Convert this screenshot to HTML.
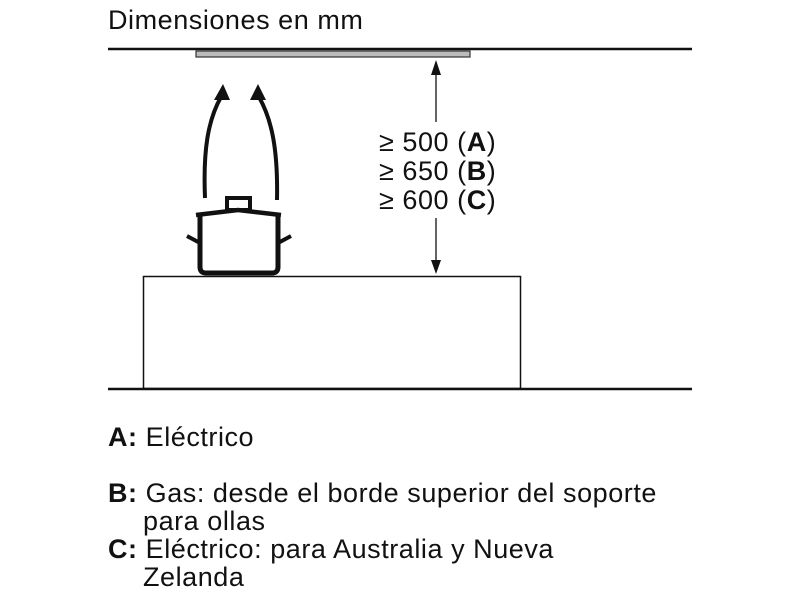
<!DOCTYPE html>
<html><head><style>
body{margin:0;background:#fff;width:800px;height:600px;overflow:hidden;position:relative;font-family:"Liberation Sans",sans-serif;color:#111}
.t{position:absolute;font-size:27px;white-space:nowrap;line-height:28px;letter-spacing:0.55px}
</style></head><body>
<svg width="800" height="600" style="position:absolute;left:0;top:0">
<line x1="108" y1="49" x2="692" y2="49" stroke="#111" stroke-width="2.5"/>
<rect x="196" y="51" width="274" height="6" fill="#bbb" stroke="#333" stroke-width="1.2"/>
<line x1="108" y1="389" x2="692" y2="389" stroke="#111" stroke-width="2.5"/>
<rect x="143.5" y="276.5" width="377" height="112" fill="none" stroke="#111" stroke-width="1.5"/>
<line x1="436" y1="70" x2="436" y2="122" stroke="#111" stroke-width="1.3"/>
<line x1="436" y1="218" x2="436" y2="266" stroke="#111" stroke-width="1.3"/>
<polygon points="436,60 431,75 441,75" fill="#111"/>
<polygon points="436,274 431,260 441,260" fill="#111"/>
<path d="M205,198 C203,150 208,120 221,97" fill="none" stroke="#111" stroke-width="4"/>
<polygon points="223,84 214,100 230,100" fill="#111"/>
<path d="M277,200 C278,150 272,120 259,97" fill="none" stroke="#111" stroke-width="4"/>
<polygon points="258,84 250,100 266,100" fill="#111"/>
<rect x="227" y="198" width="23" height="12" fill="none" stroke="#111" stroke-width="4"/>
<path d="M196,215 L238,210 L281,215" fill="none" stroke="#111" stroke-width="4.5"/>
<path d="M200,215 L200,267 Q200,273 206,273 L272,273 Q278,273 278,267 L278,215" fill="none" stroke="#111" stroke-width="5"/>
<path d="M187,236 L200,243 M291,236 L278,243" stroke="#111" stroke-width="4"/>
</svg>
<div class="t" style="left:108px;top:6px">Dimensiones en mm</div>
<div class="t" style="left:379px;top:128px;line-height:29px">≥ 500 (<b>A</b>)<br>≥ 650 (<b>B</b>)<br>≥ 600 (<b>C</b>)</div>
<div class="t" style="left:108px;top:423px"><b>A:</b> Eléctrico</div>
<div class="t" style="left:108px;top:479px"><b>B:</b> Gas: desde el borde superior del soporte<br><span style="padding-left:35px">para ollas</span></div>
<div class="t" style="left:108px;top:535px"><b>C:</b> Eléctrico: para Australia y Nueva<br><span style="padding-left:35px">Zelanda</span></div>
</body></html>
